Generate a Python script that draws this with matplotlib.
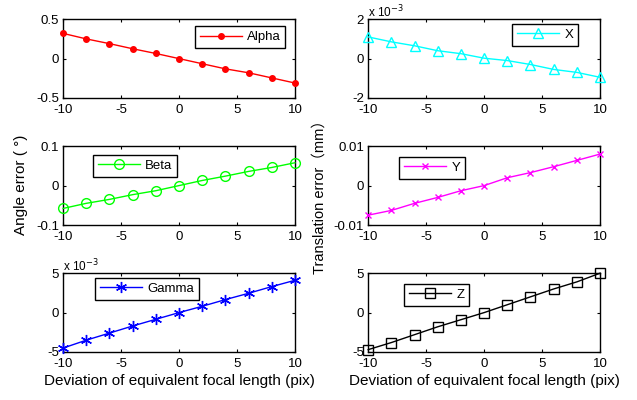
import numpy as np
import matplotlib
matplotlib.use('Agg')
import matplotlib.pyplot as plt

plt.rcParams['font.family'] = ['Liberation Sans', 'Noto Sans CJK SC', 'DejaVu Sans']
plt.rcParams['font.size'] = 9.5
plt.rcParams['xtick.direction'] = 'in'
plt.rcParams['ytick.direction'] = 'in'
plt.rcParams['xtick.top'] = True
plt.rcParams['ytick.right'] = True
plt.rcParams['axes.linewidth'] = 1.0

# data
dev = [-10, -8, -6, -4, -2, 0, 2, 4, 6, 8, 10]
alpha = [0.32, 0.25, 0.19, 0.125, 0.065, 0.0, -0.065, -0.13, -0.18, -0.245, -0.31]
beta = [-0.058, -0.045, -0.035, -0.023, -0.013, 0.0, 0.013, 0.024, 0.036, 0.046, 0.058]
gamma_e3 = [-4.5, -3.5, -2.6, -1.7, -0.85, 0.0, 0.8, 1.65, 2.45, 3.3, 4.1]
x_e3 = [1.1, 0.85, 0.65, 0.4, 0.25, 0.02, -0.1, -0.3, -0.55, -0.7, -0.95]
y_err = [-0.0075, -0.0063, -0.0045, -0.003, -0.0013, 0.0, 0.002, 0.0033, 0.0048, 0.0064, 0.008]
z_err = [-4.7, -3.8, -2.8, -1.8, -0.9, 0.0, 1.0, 2.0, 3.0, 3.9, 5.0]

fig = plt.figure(figsize=(6.37, 4.0), dpi=100)

left_x, right_x, w = 0.099, 0.578, 0.364
rows = [0.755, 0.4375, 0.12]
h = 0.197

panels = [
    # (col, row, values, label, color, marker, size, ylim, yticks, ytl, exp, legend anchor)
    (left_x, 0, alpha, 'Alpha', 'red', 'o', 4, (-0.5, 0.5), [-0.5, 0, 0.5], ['-0.5', '0', '0.5'], False, (0.569, 0.91)),
    (right_x, 0, x_e3, 'X', 'cyan', '^', 7, (-2, 2), [-2, 0, 2], ['-2', '0', '2'], True, (0.621, 0.936)),
    (left_x, 1, beta, 'Beta', 'lime', 'o', 7, (-0.1, 0.1), [-0.1, 0, 0.1], ['-0.1', '0', '0.1'], False, (0.129, 0.886)),
    (right_x, 1, y_err, 'Y', 'magenta', 'x', 5, (-0.01, 0.01), [-0.01, 0, 0.01], ['-0.01', '0', '0.01'], False, (0.134, 0.86)),
    (left_x, 2, gamma_e3, 'Gamma', 'blue', (6, 2, 0), 8, (-5, 5), [-5, 0, 5], ['-5', '0', '5'], True, (0.138, 0.937)),
    (right_x, 2, z_err, 'Z', 'black', 's', 7, (-5, 5), [-5, 0, 5], ['-5', '0', '5'], False, (0.155, 0.86)),
]

for x0, r, vals, name, col, mk, ms, ylim, yt, ytl, exp, anchor in panels:
    ax = fig.add_axes([x0, rows[r], w, h])
    filled = name == 'Alpha'
    ax.plot(dev, vals, color=col, marker=mk, linewidth=1.0, markersize=ms,
            markerfacecolor=col if filled else 'none',
            markeredgecolor=col, label=name, clip_on=False, zorder=3)
    ax.set_xlim(-10, 10)
    ax.set_ylim(*ylim)
    ax.set_xticks([-10, -5, 0, 5, 10])
    ax.set_xticklabels(['-10', '-5', '0', '5', '10'])
    ax.set_yticks(yt)
    ax.set_yticklabels(ytl)
    ax.tick_params(length=2.5, width=0.8)
    ax.tick_params(axis='x', pad=4.5)
    ax.tick_params(axis='y', pad=3)
    if exp:
        ax.text(0.0, 1.03, r'x 10$^{-3}$', transform=ax.transAxes, fontsize=8.5)
    leg = ax.legend(loc='upper left', bbox_to_anchor=anchor, fancybox=False,
                    edgecolor='black', framealpha=1, handlelength=3.2,
                    borderpad=0.35, handletextpad=0.4, borderaxespad=0)
    leg.get_frame().set_linewidth(1.0)
    if r == 2:
        ax.set_xlabel('Deviation of equivalent focal length (pix)', fontsize=11, labelpad=3)

fig.text(0.033, 0.5375, 'Angle error ( °)', rotation=90, va='center', ha='center', fontsize=11)
fig.text(0.502, 0.517, 'Translation error（mm）', rotation=90, va='center', ha='center', fontsize=10.5)

fig.savefig('out.png', dpi=100)
